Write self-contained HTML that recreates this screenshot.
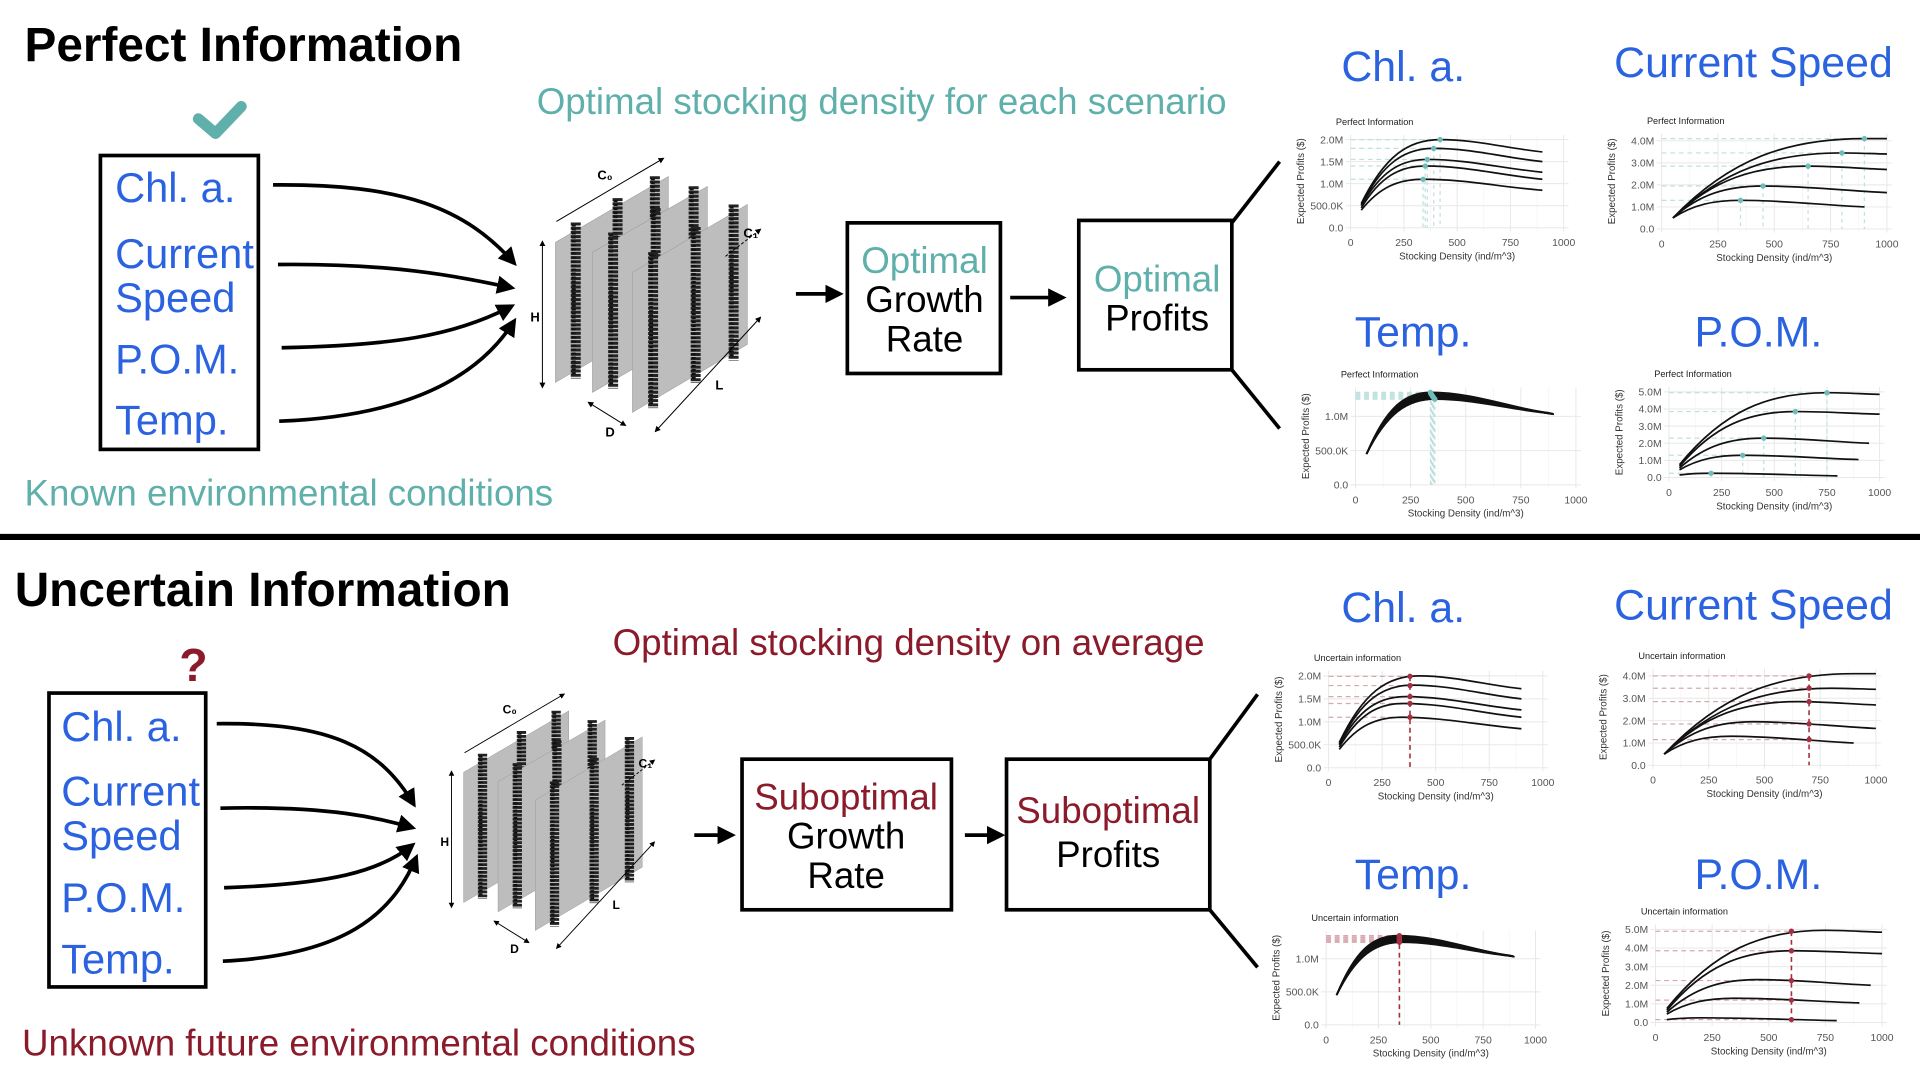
<!DOCTYPE html>
<html><head><meta charset="utf-8">
<style>
html,body{margin:0;padding:0;background:#fff;width:1920px;height:1080px;overflow:hidden}
svg{display:block}
text{font-family:"Liberation Sans",sans-serif}
</style></head>
<body>
<svg id="root" width="1920" height="1080" viewBox="0 0 1568 882" xmlns="http://www.w3.org/2000/svg">
<defs>
<marker id="ah" viewBox="0 0 10 10" refX="8" refY="5" markerWidth="5" markerHeight="5" orient="auto"><path d="M0,0 L10,5 L0,10 z" fill="#000"/></marker>
<marker id="ahs" viewBox="0 0 10 10" refX="8" refY="5" markerWidth="6" markerHeight="6" orient="auto-start-reverse"><path d="M0,0 L10,5 L0,10 z" fill="#000"/></marker>
</defs>
<text x="20" y="50" font-size="39" font-weight="bold" fill="#000">Perfect Information</text>
<text x="12" y="495" font-size="39" font-weight="bold" fill="#000">Uncertain Information</text>
<text x="720" y="93" font-size="30" fill="#5fb0ab" text-anchor="middle">Optimal stocking density for each scenario</text>
<text x="20" y="413" font-size="30" fill="#5fb0ab">Known environmental conditions</text>
<text x="742" y="535" font-size="30" fill="#8b1a2a" text-anchor="middle">Optimal stocking density on average</text>
<text x="18" y="862" font-size="30" fill="#8b1a2a">Unknown future environmental conditions</text>
<rect x="0" y="436" width="1568" height="5" fill="#000"/>
<path d="M162,97 L176,109 L197,87" stroke="#5fb0ab" stroke-width="9" fill="none" stroke-linecap="round" stroke-linejoin="round"/>
<text x="158" y="556" font-size="38" font-weight="bold" fill="#8b1a2a" text-anchor="middle">?</text>
<g>
<rect x="82" y="127" width="129" height="240" fill="none" stroke="#000" stroke-width="3"/>
<text x="94" y="165" font-size="34" fill="#2a62e0">Chl. a.</text>
<text x="94" y="219" font-size="34" fill="#2a62e0">Current</text>
<text x="94" y="255" font-size="34" fill="#2a62e0">Speed</text>
<text x="94" y="305" font-size="34" fill="#2a62e0">P.O.M.</text>
<text x="94" y="355" font-size="34" fill="#2a62e0">Temp.</text>
</g>
<g fill="none" stroke="#000" stroke-width="3" marker-end="url(#ah)">
<path d="M223,151 C330,150 380,170 420,215"/>
<path d="M227,216 C320,215 370,225 418,235"/>
<path d="M230,284 C320,282 370,275 418,250"/>
<path d="M228,344 C330,340 390,310 420,262"/>
</g>
<g>
<rect x="692" y="182" width="125" height="123" fill="none" stroke="#000" stroke-width="3"/>
<text x="755" y="223" font-size="30" fill="#5fb0ab" text-anchor="middle">Optimal</text>
<text x="755" y="255" font-size="30" fill="#000" text-anchor="middle">Growth</text>
<text x="755" y="287" font-size="30" fill="#000" text-anchor="middle">Rate</text>
</g>
<g>
<rect x="881" y="180" width="125" height="122" fill="none" stroke="#000" stroke-width="3"/>
<text x="945" y="238" font-size="30" fill="#5fb0ab" text-anchor="middle">Optimal</text>
<text x="945" y="270" font-size="30" fill="#000" text-anchor="middle">Profits</text>
</g>
<g stroke="#000" stroke-width="3" marker-end="url(#ah)">
<line x1="650" y1="240" x2="686" y2="240"/><line x1="825" y1="243" x2="868" y2="243"/>
</g>
<g stroke="#000" stroke-width="3"><line x1="1006" y1="182" x2="1045" y2="132"/><line x1="1006" y1="302" x2="1045" y2="350"/></g>
<g>
<rect x="40" y="566" width="128" height="240" fill="none" stroke="#000" stroke-width="3"/>
<text x="50" y="605" font-size="34" fill="#2a62e0">Chl. a.</text>
<text x="50" y="658" font-size="34" fill="#2a62e0">Current</text>
<text x="50" y="694" font-size="34" fill="#2a62e0">Speed</text>
<text x="50" y="745" font-size="34" fill="#2a62e0">P.O.M.</text>
<text x="50" y="795" font-size="34" fill="#2a62e0">Temp.</text>
</g>
<g fill="none" stroke="#000" stroke-width="3" marker-end="url(#ah)">
<path d="M177,591 C270,590 310,610 338,657"/>
<path d="M180,660 C270,658 310,668 337,676"/>
<path d="M183,725 C270,722 310,712 337,690"/>
<path d="M182,785 C280,780 320,748 340,700"/>
</g>
<g>
<rect x="606" y="620" width="171" height="123" fill="none" stroke="#000" stroke-width="3"/>
<text x="691" y="661" font-size="30" fill="#8b1a2a" text-anchor="middle">Suboptimal</text>
<text x="691" y="693" font-size="30" fill="#000" text-anchor="middle">Growth</text>
<text x="691" y="725" font-size="30" fill="#000" text-anchor="middle">Rate</text>
</g>
<g>
<rect x="822" y="620" width="166" height="123" fill="none" stroke="#000" stroke-width="3"/>
<text x="905" y="672" font-size="30" fill="#8b1a2a" text-anchor="middle">Suboptimal</text>
<text x="905" y="708" font-size="30" fill="#000" text-anchor="middle">Profits</text>
</g>
<g stroke="#000" stroke-width="3" marker-end="url(#ah)">
<line x1="567" y1="682" x2="598" y2="682"/><line x1="788" y1="682" x2="818" y2="682"/>
</g>
<g stroke="#000" stroke-width="3"><line x1="988" y1="620" x2="1027" y2="567"/><line x1="988" y1="743" x2="1027" y2="790"/></g>
<g font-size="35" fill="#2a62e0" text-anchor="middle">
<text x="1146" y="66">Chl. a.</text><text x="1432" y="63">Current Speed</text>
<text x="1154" y="283">Temp.</text><text x="1436" y="283">P.O.M.</text>
<text x="1146" y="508">Chl. a.</text><text x="1432" y="506">Current Speed</text>
<text x="1154" y="726">Temp.</text><text x="1436" y="726">P.O.M.</text>
</g>
<g id="charts"></g>
<g id="diagrams"></g>
</svg>
<script>
const chlPeakX=[420,390,360,350,340];
const chlPeakY=[2.0,1.8,1.55,1.4,1.1];
const chlStartY=[0.55,0.52,0.5,0.45,0.4];
const chlEndX=[900,900,900,900,900];
const chlEndY=[1.72,1.5,1.26,1.1,0.85];
const chlUncY=[1.99,1.79,1.55,1.4,1.1];
const csPeakX=[900,800,650,450,350];
const csPeakY=[4.1,3.45,2.85,1.95,1.3];
const csStartY=[0.5,0.5,0.5,0.5,0.5];
const csEndX=[1000,1000,1000,1000,900];
const csEndY=[4.1,3.4,2.7,1.65,1.0];
const csUncY=[4.0,3.45,2.85,1.85,1.15];
const tmpPeakX=[340,342,345,348,350,353,356,360];
const tmpPeakY=[1.35,1.33,1.32,1.3,1.29,1.28,1.26,1.25];
const tmpStartY=[0.45,0.45,0.45,0.45,0.45,0.45,0.45,0.45];
const tmpEndX=[900,900,895,890,885,880,870,860];
const tmpEndY=[1.03,1.03,1.04,1.04,1.04,1.05,1.05,1.05];
const tmpUncY=[1.35,1.33,1.32,1.3,1.29,1.28,1.26,1.25];
const pomPeakX=[750,600,450,350,200];
const pomPeakY=[4.95,3.85,2.3,1.3,0.25];
const pomStartY=[0.75,0.65,0.55,0.45,0.15];
const pomEndX=[1000,1000,950,900,800];
const pomEndY=[4.85,3.7,2.0,1.05,0.1];
const pomUncY=[4.9,3.85,2.25,1.2,0.15];
const xTickVals=[0,250,500,750,1000];
const chlTicks=[0,0.5,1.0,1.5,2.0];
const chlTickLabels=["0.0","500.0K","1.0M","1.5M","2.0M"];
const csTicks=[0,1,2,3,4];
const csTickLabels=["0.0","1.0M","2.0M","3.0M","4.0M"];
const tmpTicks=[0,0.5,1.0];
const tmpTickLabels=["0.0","500.0K","1.0M"];
const pomTicks=[0,1,2,3,4,5];
const pomTickLabels=["0.0","1.0M","2.0M","3.0M","4.0M","5.0M"];

const NS="http://www.w3.org/2000/svg";
function mk(tag,attrs,parent){const e=document.createElementNS(NS,tag);for(const k in attrs)e.setAttribute(k,attrs[k]);parent.appendChild(e);return e;}
const chartsG=document.getElementById('charts');

function chart(name,cfg,d){
  const g=mk('g',{},chartsG);
  
  
  const sx=v=>cfg.x0+(cfg.x1-cfg.x0)*v/1000;
  const sy=v=>cfg.y0-(cfg.y0-cfg.yt)*v/cfg.ytv;
  const left=sx(0)-4,right=sx(1000)+4;
  const topY=sy(cfg.ymax)-4;
  const minorX=[125,375,625,875];
  minorX.forEach(v=>{const l=mk('line',{x1:sx(v),x2:sx(v),y1:topY,y2:cfg.y0+3,stroke:'#f4f4f4','stroke-width':0.6},g);
  
  });
  xTickVals.forEach(v=>{const l=mk('line',{x1:sx(v),x2:sx(v),y1:topY,y2:cfg.y0+3,stroke:'#e8e8e8','stroke-width':0.8},g);
  
  
  const t=mk('text',{x:sx(v),y:cfg.y0+15,'font-size':8.5,fill:'#555','text-anchor':'middle'},g);t.textContent=v;
  
  });
  cfg.ticks.forEach((v,i)=>{const l=mk('line',{x1:left,x2:right,y1:sy(v),y2:sy(v),stroke:'#e8e8e8','stroke-width':0.8},g);
  
  
  const t=mk('text',{x:left-2,y:sy(v)+3,'font-size':8.5,fill:'#555','text-anchor':'end'},g);t.textContent=cfg.labels[i];
  
  });
  const ti=mk('text',{x:left-8,y:topY-8,'font-size':7.5,fill:'#222'},g);ti.textContent=cfg.title;
  
  
  const xt=mk('text',{x:(sx(0)+sx(1000))/2,y:cfg.y0+26,'font-size':8,fill:'#333','text-anchor':'middle'},g);xt.textContent='Stocking Density (ind/m^3)';
  
  
  const yx=left-34,yy=(cfg.y0+topY)/2;
  const yt=mk('text',{x:yx,y:yy,'font-size':8,fill:'#333','text-anchor':'middle',transform:`rotate(-90 ${yx} ${yy})`},g);yt.textContent='Expected Profits ($)';
  
  
  const col=cfg.unc?'#a33040':'#6fbdb8';
  const lcol=cfg.unc?'#d9a8ae':'#bfe0de';
  d.peakX.forEach((px,i)=>{
    const mx=cfg.unc?cfg.mx:px, my=cfg.unc?d.uncY[i]:d.peakY[i];
    const h=mk('line',{x1:sx(0),x2:sx(mx),y1:sy(my),y2:sy(my),stroke:lcol,'stroke-width':1,'stroke-dasharray':'4,3'},g);
    
    
    if(!cfg.unc){const v=mk('line',{x1:sx(mx),x2:sx(mx),y1:sy(my),y2:cfg.y0,stroke:lcol,'stroke-width':1,'stroke-dasharray':'3,3'},g);
    
    }
  });
  if(cfg.unc){const v=mk('line',{x1:sx(cfg.mx),x2:sx(cfg.mx),y1:sy(Math.max(...d.uncY)),y2:cfg.y0,stroke:'#a33040','stroke-width':1.3,'stroke-dasharray':'4,3'},g);
  
  }
  d.peakX.forEach((px,i)=>{
    const s=d.startY[i],py=d.peakY[i],ex=d.endX[i],ey=d.endY[i];
    const p=`M${sx(50)},${sy(s)} C${sx(50+(px-50)*0.3)},${sy(s+(py-s)*0.75)} ${sx(px-(px-50)*0.4)},${sy(py)} ${sx(px)},${sy(py)} C${sx(px+(ex-px)*0.35)},${sy(py)} ${sx(ex-(ex-px)*0.35)},${sy(ey+(py-ey)*0.3)} ${sx(ex)},${sy(ey)}`;
    const c=mk('path',{d:p,fill:'none',stroke:'#111','stroke-width':1.4},g);
    
    
  });
  d.peakX.forEach((px,i)=>{
    const mx=cfg.unc?cfg.mx:px, my=cfg.unc?d.uncY[i]:d.peakY[i];
    const m=mk('circle',{cx:sx(mx),cy:sy(my),r:2.2,fill:col},g);
    
    
  });
}
const chl={peakX:chlPeakX,peakY:chlPeakY,startY:chlStartY,endX:chlEndX,endY:chlEndY,uncY:chlUncY};
const cs={peakX:csPeakX,peakY:csPeakY,startY:csStartY,endX:csEndX,endY:csEndY,uncY:csUncY};
const tmp={peakX:tmpPeakX,peakY:tmpPeakY,startY:tmpStartY,endX:tmpEndX,endY:tmpEndY,uncY:tmpUncY};
const pom={peakX:pomPeakX,peakY:pomPeakY,startY:pomStartY,endX:pomEndX,endY:pomEndY,uncY:pomUncY};
chart('chl-perfect-chart',{x0:1103,x1:1277,y0:186,yt:114,ytv:2.0,ymax:2.0,ticks:chlTicks,labels:chlTickLabels,title:'Perfect Information'},chl);
chart('current-perfect-chart',{x0:1357,x1:1541,y0:187,yt:115,ytv:4.0,ymax:4.1,ticks:csTicks,labels:csTickLabels,title:'Perfect Information'},cs);
chart('temp-perfect-chart',{x0:1107,x1:1287,y0:396,yt:340,ytv:1.0,ymax:1.35,ticks:tmpTicks,labels:tmpTickLabels,title:'Perfect Information'},tmp);
chart('pom-perfect-chart',{x0:1363,x1:1535,y0:390,yt:320,ytv:5.0,ymax:5.0,ticks:pomTicks,labels:pomTickLabels,title:'Perfect Information'},pom);
chart('chl-uncertain-chart',{x0:1085,x1:1260,y0:627,yt:552,ytv:2.0,ymax:2.0,ticks:chlTicks,labels:chlTickLabels,title:'Uncertain information',unc:true,mx:380},chl);
chart('current-uncertain-chart',{x0:1350,x1:1532,y0:625,yt:552,ytv:4.0,ymax:4.1,ticks:csTicks,labels:csTickLabels,title:'Uncertain information',unc:true,mx:700},cs);
chart('temp-uncertain-chart',{x0:1083,x1:1254,y0:837,yt:783,ytv:1.0,ymax:1.35,ticks:tmpTicks,labels:tmpTickLabels,title:'Uncertain information',unc:true,mx:350},tmp);
chart('pom-uncertain-chart',{x0:1352,x1:1537,y0:835,yt:759,ytv:5.0,ymax:5.0,ticks:pomTicks,labels:pomTickLabels,title:'Uncertain information',unc:true,mx:600},pom);

const diagG=document.getElementById('diagrams');
function diagram(name,tx,ty,sc){
  const g=mk('g',{transform:`translate(${tx},${ty}) scale(${sc})`},diagG);
  
  
  const panels=[[35,93,148,27],[72,103,187,37],[112,123,227,55]];
  const h=140;
  panels.forEach(p=>{
    const pl=mk('polygon',{points:`${p[0]},${p[1]} ${p[2]},${p[3]} ${p[2]},${p[3]+h} ${p[0]},${p[1]+h}`,fill:'#bdbdbd',stroke:'#999','stroke-width':0.5},g);
    
    
    [0.18,0.55,0.88].forEach(f=>{
      const x=p[0]+(p[2]-p[0])*f, y=p[1]+(p[3]-p[1])*f;
      const c=mk('line',{x1:x,y1:y-8,x2:x,y2:y+h+8,stroke:'#222','stroke-width':10,'stroke-dasharray':'3,1.2'},g);
      
      
      const c2=mk('line',{x1:x-2,y1:y-6,x2:x-2,y2:y+h+6,stroke:'#111','stroke-width':4,'stroke-dasharray':'2,2'},g);
      
      
    });
  });
  const ar=mk('g',{stroke:'#000','stroke-width':1,fill:'none'},g);
  
  
  mk('line',{x1:22,y1:92,x2:22,y2:238,'marker-end':'url(#ahs)','marker-start':'url(#ahs)'},ar);
  mk('line',{x1:36,y1:72,x2:143,y2:9,'marker-end':'url(#ahs)'},ar);
  mk('line',{x1:68,y1:253,x2:105,y2:276,'marker-end':'url(#ahs)','marker-start':'url(#ahs)'},ar);
  mk('line',{x1:135,y1:282,x2:240,y2:168,'marker-end':'url(#ahs)','marker-start':'url(#ahs)'},ar);
  mk('line',{x1:205,y1:107,x2:240,y2:80,'stroke-dasharray':'3,2','marker-end':'url(#ahs)'},ar);
  const lbl=[['H',10,172],['C\u2080',77,30],['C\u2081',223,88],['D',85,287],['L',195,240]];
  lbl.forEach(l=>{const t=mk('text',{x:l[1],y:l[2],'font-size':13,'font-weight':'bold',fill:'#000'},g);t.textContent=l[0];
  
  });
}
diagram('cage-diagram-perfect',425,122,0.8167);
diagram('cage-diagram-uncertain',352,560,0.76);
</script>
</body></html>
